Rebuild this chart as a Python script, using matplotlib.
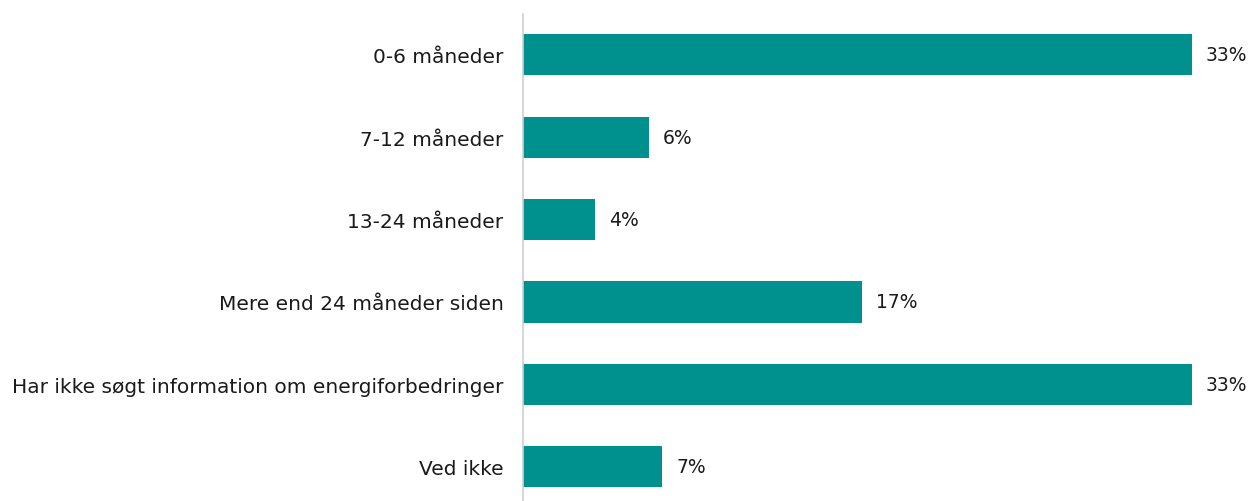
import matplotlib
matplotlib.use("Agg")
import matplotlib.pyplot as plt

categories = [
    "0-6 måneder",
    "7-12 måneder",
    "13-24 måneder",
    "Mere end 24 måneder siden",
    "Har ikke søgt information om energiforbedringer",
    "Ved ikke",
]
values = [33.0, 6.2, 3.55, 16.7, 33.0, 6.86]

plt.rcParams['font.family'] = ['DejaVu Sans']

W, H = 1248, 502
fig = plt.figure(figsize=(W / 100, H / 100), dpi=100)
left_px, top_px = 523, 14.5
spacing = 82.4
ax_h = 6 * spacing
ax = fig.add_axes([left_px / W, 1 - (top_px + ax_h) / H, (W - left_px) / W, ax_h / H])

teal = "#00918E"
ypos = list(range(len(categories)))
ax.barh(ypos, values, height=0.5, color=teal)
scale = (1192 - 523) / 33.0
xmax = (W - left_px) / scale
ax.set_xlim(0, xmax)
ax.set_ylim(len(categories) - 0.5, -0.5)

for y, v in zip(ypos, values):
    ax.annotate(f"{round(v)}%", (v, y), xytext=(14, 0), textcoords="offset pixels",
                va="center", ha="left", fontsize=13.5, color="#1a1a1a")

ax.set_yticks(ypos)
ax.set_yticklabels(categories, fontsize=14.5, color="#1a1a1a")
ax.tick_params(axis="y", length=0, pad=14)
ax.set_xticks([])
for s in ["top", "right", "bottom"]:
    ax.spines[s].set_visible(False)
ax.spines["left"].set_color("#d0d0d0")
ax.spines["left"].set_linewidth(1.2)

fig.savefig("out.png", dpi=100)
